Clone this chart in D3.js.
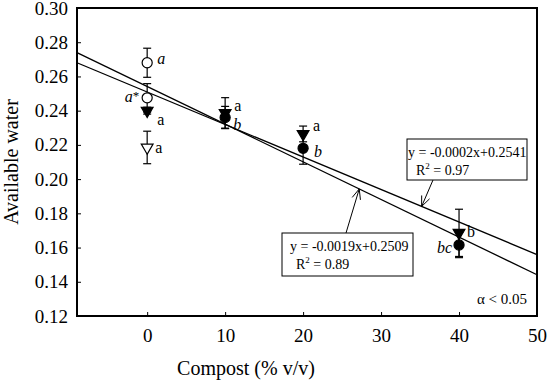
<!DOCTYPE html>
<html lang="en">
<script src="https://d3js.org/d3.v7.min.js"></script>
<style>
    body {margin: 0; background: white;}
    text {font-family: "Liberation Serif", "Times New Roman", serif; fill: black;}
    .axis text {font-size: 19px;}
    .axis path, .axis line {stroke: black;}
    .fit line {stroke: black; stroke-width: 1.3;}
    .err line {stroke: black; stroke-width: 1.2;}
    .lab {font-size: 16px;}
    .box rect {fill: white; stroke: black; stroke-width: 1;}
    .box text {font-size: 14px;}
</style>
<body>
    <svg width="550" height="383"></svg>
</body>
<script>
    // x = compost (% v/v)
    var xTicks = [0, 10, 20, 30, 40, 50];
    var yTicks = [0.12, 0.14, 0.16, 0.18, 0.20, 0.22, 0.24, 0.26, 0.28, 0.30];

    var openCircleX = [0, 0];
    var openCircleY = [0.268, 0.2475];
    var openCircleErr = [0.0085, 0.0083];
    var openCircleLab = ["a", "a*"];

    var openTriX = [0];
    var openTriY = [0.2185];
    var openTriErr = [0.0095];
    var openTriLab = ["a"];

    var filledTriX = [0, 10, 20, 40];
    var filledTriY = [0.240, 0.2387, 0.2264, 0.1686];
    var filledTriErr = [0.002, 0.0089, 0.0046, 0.0138];
    var filledTriLab = ["a", "a", "a", "b"];

    var filledCircleX = [10, 20, 40];
    var filledCircleY = [0.236, 0.218, 0.1615];
    var filledCircleErr = [0.0065, 0.0093, 0.0074];
    var filledCircleLab = ["b", "b", "bc"];

    var fitSlope = [-0.0022, -0.0019];
    var fitIntercept = [0.2541, 0.2509];
    var boxLines = [["y = -0.0002x+0.2541", "R2 = 0.97"], ["y = -0.0019x+0.2509", "R2 = 0.89"]];

    var svg = d3.select("svg");
    var x = d3.scaleLinear().domain([-9, 50]).range([77, 537]);
    var y = d3.scaleLinear().domain([0.12, 0.30]).range([316, 8]);

    // regression lines
    var fits = fitSlope.map(function(s, i){ return {s: s, b: fitIntercept[i]}; });
    svg.append("g").attr("class", "fit").selectAll("line").data(fits).enter().append("line")
        .attr("x1", x(-9)).attr("x2", x(50))
        .attr("y1", function(d){ return y(d.b + d.s * -9); })
        .attr("y2", function(d){ return y(d.b + d.s * 50); });

    // error bars then markers
    function series(xs, ys, es, labs, kind){
        return xs.map(function(v, i){ return {x: v, y: ys[i], e: es[i], lab: labs[i], kind: kind}; });
    }
    var pts = [].concat(
        series(openCircleX, openCircleY, openCircleErr, openCircleLab, "oc"),
        series(openTriX, openTriY, openTriErr, openTriLab, "ot"),
        series(filledTriX, filledTriY, filledTriErr, filledTriLab, "ft"),
        series(filledCircleX, filledCircleY, filledCircleErr, filledCircleLab, "fc"));

    var eg = svg.append("g").attr("class", "err").selectAll("g").data(pts).enter().append("g");
    eg.append("line").attr("x1", function(d){ return x(d.x); }).attr("x2", function(d){ return x(d.x); })
        .attr("y1", function(d){ return y(d.y + d.e); }).attr("y2", function(d){ return y(d.y - d.e); });
    eg.append("line").attr("x1", function(d){ return x(d.x) - 4; }).attr("x2", function(d){ return x(d.x) + 4; })
        .attr("y1", function(d){ return y(d.y + d.e); }).attr("y2", function(d){ return y(d.y + d.e); });
    eg.append("line").attr("x1", function(d){ return x(d.x) - 4; }).attr("x2", function(d){ return x(d.x) + 4; })
        .attr("y1", function(d){ return y(d.y - d.e); }).attr("y2", function(d){ return y(d.y - d.e); });

    var tri = d3.symbol().type(d3.symbolTriangle).size(60);
    svg.append("g").selectAll("path").data(pts).enter().append("path")
        .attr("d", function(d){ return (d.kind == "oc" || d.kind == "fc") ? d3.symbol().type(d3.symbolCircle).size(80)() : tri(); })
        .attr("transform", function(d){
            var r = (d.kind == "ot" || d.kind == "ft") ? " rotate(180)" : "";
            return "translate(" + x(d.x) + "," + y(d.y) + ")" + r;
        })
        .attr("fill", function(d){ return (d.kind == "fc" || d.kind == "ft") ? "black" : "white"; })
        .attr("stroke", "black").attr("stroke-width", 1.2);

    // significance letters: offsets per series / point
    var labPlace = {
        oc: [[10, 1, "start"], [-8, 4, "end"]],
        ot: [[8, 6, "start"]],
        ft: [[10, 14, "start"], [9, -2, "start"], [10, -3, "start"], [8, 4, "start"]],
        fc: [[8, 12, "start"], [11, 9, "start"], [-7, 8, "end"]]
    };
    var idx = {oc: 0, ot: 0, ft: 0, fc: 0};
    pts.forEach(function(d){
        var p = labPlace[d.kind][idx[d.kind]++];
        var italic = (d.kind == "oc" || d.kind == "fc");
        svg.append("text").attr("class", "lab")
            .attr("x", x(d.x) + p[0]).attr("y", y(d.y) + p[1])
            .attr("text-anchor", p[2])
            .style("font-style", italic ? "italic" : "normal")
            .text(d.lab.replace("*", ""))
            .call(function(t){ if (d.lab.indexOf("*") >= 0) t.append("tspan").attr("dy", -2).style("font-style", "normal").style("font-size", "13px").text("*"); });
    });

    // annotation boxes with arrows to the lines
    var boxes = [
        {x0: 407, y0: 139, w: 120, h: 41, line: 1, ax: 35.2, tail: [433, 180], tx: [1, 9]},
        {x0: 282, y0: 233, w: 131, h: 43, line: 0, ax: 27.2, tail: [346, 233], tx: [8, 14]}
    ];
    boxes.forEach(function(b, i){
        var g = svg.append("g").attr("class", "box");
        var tipX = x(b.ax), tipY = y(fits[b.line].b + fits[b.line].s * b.ax);
        var tx = b.tail[0], ty = b.tail[1];
        g.append("line").attr("x1", tx).attr("y1", ty).attr("x2", tipX).attr("y2", tipY).attr("stroke", "black").attr("stroke-width", 1);
        var ang = Math.atan2(ty - tipY, tx - tipX);
        [0.4, -0.4].forEach(function(da){
            g.append("line").attr("x1", tipX).attr("y1", tipY)
                .attr("x2", tipX + 11 * Math.cos(ang + da)).attr("y2", tipY + 11 * Math.sin(ang + da))
                .attr("stroke", "black").attr("stroke-width", 1);
        });
        g.append("rect").attr("x", b.x0).attr("y", b.y0).attr("width", b.w).attr("height", b.h);
        g.append("text").attr("x", b.x0 + b.tx[0]).attr("y", b.y0 + 18).text(boxLines[i][0]);
        var t2 = g.append("text").attr("x", b.x0 + b.tx[1]).attr("y", b.y0 + 36);
        t2.append("tspan").text("R");
        t2.append("tspan").attr("dy", -6).style("font-size", "9px").text("2");
        t2.append("tspan").attr("dy", 6).text(boxLines[i][1].slice(2));
    });

    svg.append("text").attr("x", 527).attr("y", 304).attr("text-anchor", "end").style("font-size", "15px").text("\u03b1 < 0.05");

    // axes, ticks inside
    svg.append("g").attr("class", "axis").attr("transform", "translate(0,316)")
        .call(d3.axisBottom(x).tickValues(xTicks).tickSize(-4).tickPadding(13).tickFormat(d3.format("d")))
        .call(function(g){ g.select(".domain").remove(); });
    svg.append("g").attr("class", "axis").attr("transform", "translate(77,0)")
        .call(d3.axisLeft(y).tickValues(yTicks).tickSize(-4).tickPadding(9).tickFormat(d3.format(".2f")))
        .call(function(g){ g.select(".domain").remove(); });
    svg.append("rect").attr("x", 77).attr("y", 8).attr("width", 460).attr("height", 308)
        .attr("fill", "none").attr("stroke", "black").attr("stroke-width", 2);

    svg.append("text").attr("x", 246).attr("y", 375).attr("text-anchor", "middle").style("font-size", "20px").text("Compost (% v/v)");
    svg.append("text").attr("transform", "translate(18,162) rotate(-90)").attr("text-anchor", "middle").style("font-size", "20px").text("Available water");
</script>
</html>
